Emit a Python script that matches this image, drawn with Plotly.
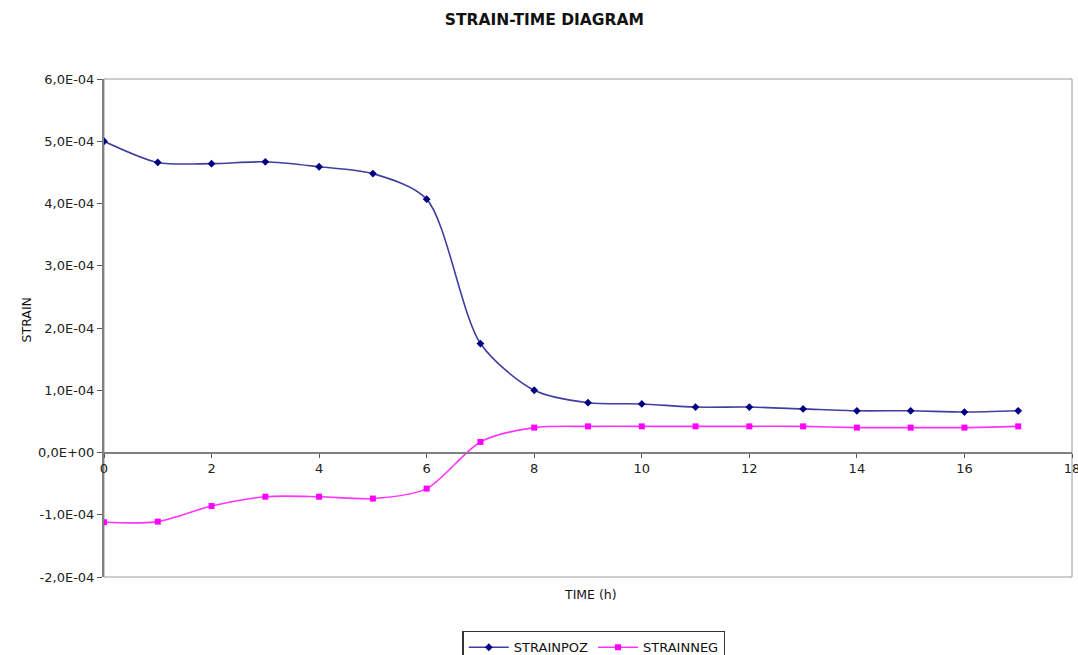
import plotly.graph_objects as go

time_h = list(range(18))
strain_poz = [5.00e-4, 4.66e-4, 4.64e-4, 4.67e-4, 4.59e-4, 4.48e-4, 4.07e-4, 1.75e-4,
              1.00e-4, 0.80e-4, 0.78e-4, 0.73e-4, 0.73e-4, 0.70e-4, 0.67e-4, 0.67e-4,
              0.65e-4, 0.67e-4]
strain_neg = [-1.12e-4, -1.11e-4, -0.86e-4, -0.71e-4, -0.71e-4, -0.74e-4, -0.58e-4, 0.17e-4,
              0.40e-4, 0.42e-4, 0.42e-4, 0.42e-4, 0.42e-4, 0.42e-4, 0.40e-4, 0.40e-4,
              0.40e-4, 0.42e-4]
y_tickvals = [-2e-4, -1e-4, 0, 1e-4, 2e-4, 3e-4, 4e-4, 5e-4, 6e-4]
y_ticktext = ["-2,0E-04", "-1,0E-04", "0,0E+00", "1,0E-04", "2,0E-04", "3,0E-04",
              "4,0E-04", "5,0E-04", "6,0E-04"]
x_tickvals = list(range(0, 19, 2))

font = "DejaVu Sans, Verdana, sans-serif"

fig = go.Figure()
fig.add_trace(go.Scatter(
    x=time_h, y=strain_poz, name="STRAINPOZ", mode="lines+markers",
    line=dict(color="#3f3f9f", width=1.6, shape="spline", smoothing=0.8),
    marker=dict(symbol="diamond", size=6, color="#000080")))
fig.add_trace(go.Scatter(
    x=time_h, y=strain_neg, name="STRAINNEG", mode="lines+markers",
    line=dict(color="#ff33ff", width=1.6, shape="spline", smoothing=0.8),
    marker=dict(symbol="square", size=6, color="#ff00ff")))

fig.update_layout(
    width=1078, height=655,
    margin=dict(l=104, r=6, t=79, b=78, autoexpand=False),
    paper_bgcolor="white", plot_bgcolor="white",
    font=dict(family=font, size=12, color="#222"),
    title=dict(text="<b>STRAIN-TIME DIAGRAM</b>", x=0.505, xanchor="center",
               y=1 - 20 / 655, yref="container", yanchor="middle",
               font=dict(size=15.5, color="#111")),
    showlegend=True,
    legend=dict(orientation="h", x=0.506, xanchor="center", y=-0.108, yanchor="top",
                bordercolor="#333", borderwidth=1.5, bgcolor="white",
                font=dict(size=13, color="#111"), itemwidth=40, tracegroupgap=0),
    xaxis=dict(range=[0, 18], tickvals=x_tickvals, ticks="outside", ticklen=4,
               tickcolor="#555", showgrid=False, zeroline=False,
               showline=True, linecolor="#808080", linewidth=2,
               anchor="free", position=0.25, tickfont=dict(size=13),
               ticklabeloverflow="allow"),
    yaxis=dict(range=[-2e-4, 6e-4], tickvals=y_tickvals, ticktext=y_ticktext,
               ticks="outside", ticklen=5, tickcolor="#555", showgrid=False,
               zeroline=False, showline=True, linecolor="#808080", linewidth=2,
               tickfont=dict(size=13), ticklabeloverflow="allow"),
    shapes=[dict(type="rect", xref="paper", yref="paper", x0=0, x1=1, y0=0, y1=1,
                 line=dict(color="#9a9a9a", width=1), layer="below")],
    annotations=[
        dict(text="TIME (h)", xref="paper", yref="paper", x=0.503, y=-0.054,
             showarrow=False, font=dict(size=12.5, color="#111")),
        dict(text="STRAIN", xref="paper", yref="paper", x=-0.09, y=0.516,
             showarrow=False, textangle=-90, font=dict(size=12.5, color="#111")),
    ],
)

fig.write_html("out.html")
